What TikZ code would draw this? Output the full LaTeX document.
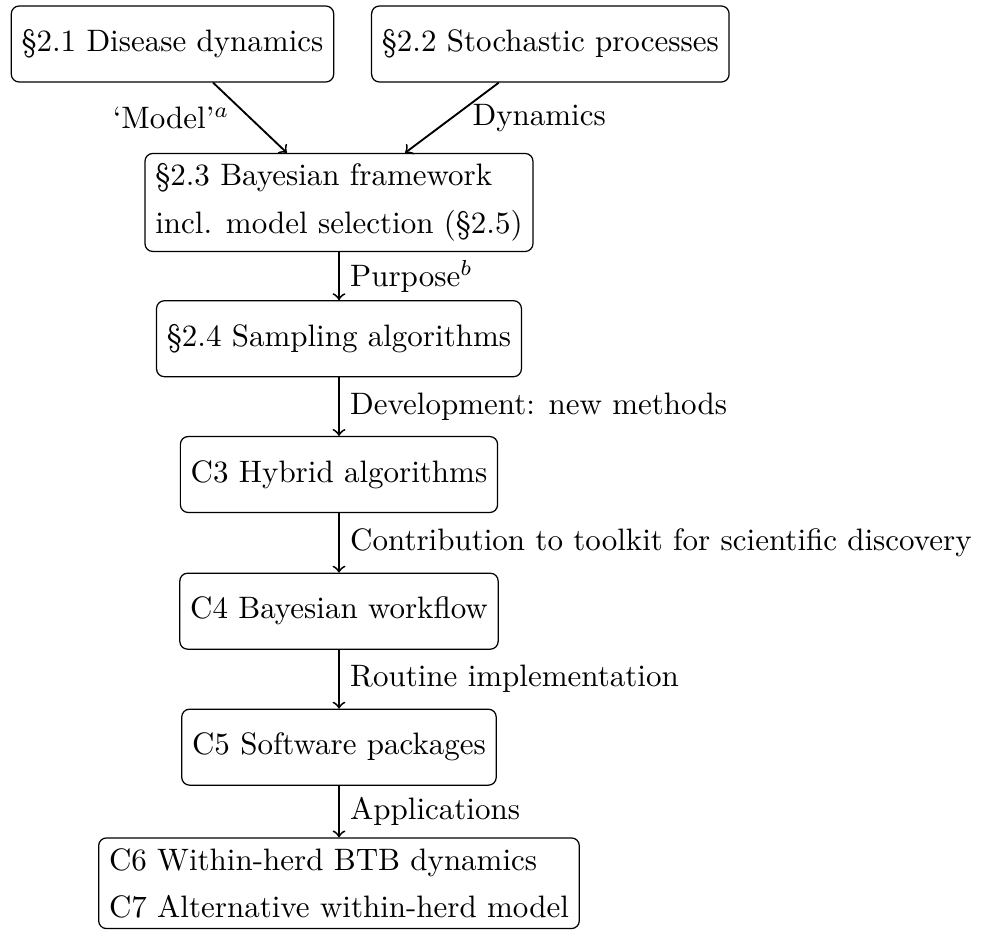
\documentclass[tikz,border=0pt]{standalone}
\begin{document}
\begin{tikzpicture}[
		box/.style={draw, rounded corners=2.5pt, minimum height=24.5pt},
		link/.style={->, semithick}]
		\useasboundingbox (0,0) rectangle (11.204,-10.546);
		\node[box] (disease) at (1.956,-0.499) {\S2.1 Disease dynamics};
		\node[box] (stoch) at (6.241,-0.499) {\S2.2 Stochastic processes};
		\node[box, align=left] (bayes) at (3.844,-2.296) {\S2.3 Bayesian framework\\[3.3pt]incl. model selection (\S2.5)};
		\node[box] (sampling) at (3.844,-3.841) {\S2.4 Sampling algorithms};
		\node[box] (hybrid) at (3.844,-5.381) {C3 Hybrid algorithms};
		\node[box] (workflow) at (3.844,-6.931) {C4 Bayesian workflow};
		\node[box] (software) at (3.844,-8.473) {C5 Software packages};
		\node[box, align=left] (herd) at (3.844,-10.016) {C6 Within-herd BTB dynamics\\[3.3pt]C7 Alternative within-herd model};
		\draw[link] (disease) -- node[midway, left, xshift=-3pt] {`Model'$^a$} (bayes);
		\draw[link] (stoch) -- node[midway, right, xshift=3pt] {Dynamics} (bayes);
		\draw[link] (bayes) -- node[midway, right] {Purpose$^b$} (sampling);
		\draw[link] (sampling) -- node[midway, right] {Development: new methods} (hybrid);
		\draw[link] (hybrid) -- node[midway, right] {Contribution to toolkit for scientific discovery} (workflow);
		\draw[link] (workflow) -- node[midway, right] {Routine implementation} (software);
		\draw[link] (software) -- node[midway, right] {Applications} (herd);
\end{tikzpicture}
\end{document}
